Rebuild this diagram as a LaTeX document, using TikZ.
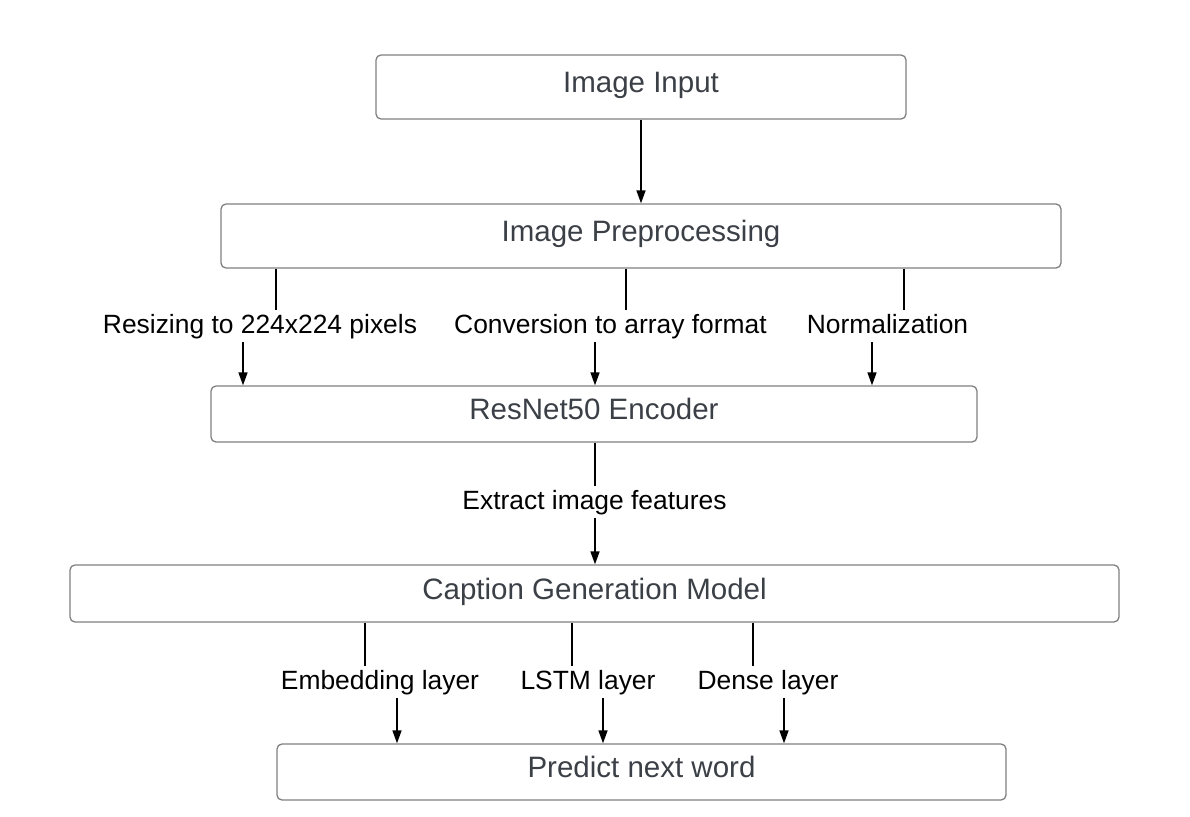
\documentclass[tikz,border=0pt]{standalone}
\usepackage{fontspec}
\setmainfont{Liberation Sans}
\usetikzlibrary{arrows.meta}
\definecolor{boxtext}{HTML}{3B3F46}
\definecolor{boxline}{HTML}{808080}

\begin{document}
\begin{tikzpicture}[x=1pt, y=-1pt,
  box/.style={draw=boxline, line width=1.3pt, rounded corners=5pt, text=boxtext, font=\fontsize{29.5}{34}\selectfont, text height=22pt, text depth=11pt, inner sep=0pt},
  lbl/.style={anchor=base, font=\fontsize{26.4}{31}\selectfont, text height=20pt, text depth=6pt, inner xsep=0pt, inner ysep=3pt},
  link/.style={line width=1.6pt},
  arr/.style={line width=1.6pt, -{Triangle[length=13pt, width=9pt]}}]
\useasboundingbox (0, 0) rectangle (1190, 816);
\node[box, minimum width=530, minimum height=64] (input) at (641, 87) {Image Input};
\node[box, minimum width=840, minimum height=64] (prep) at (641, 236) {Image Preprocessing};
\node[box, minimum width=766, minimum height=56] (enc) at (594, 414) {ResNet50 Encoder};
\node[box, minimum width=1049, minimum height=57] (cap) at (594.5, 593.5) {Caption Generation Model};
\node[box, minimum width=729, minimum height=56] (pred) at (641.5, 772) {Predict next word};
\node[lbl] (resize) at (260, 333) {Resizing to 224x224 pixels};
\node[lbl] (conv) at (610.5, 333) {Conversion to array format};
\node[lbl] (norm) at (887.5, 333) {Normalization};
\node[lbl] (feat) at (594.5, 509) {Extract image features};
\node[lbl] (embed) at (380, 689) {Embedding layer};
\node[lbl] (lstm) at (588, 689) {LSTM layer};
\node[lbl] (dense) at (768, 689) {Dense layer};
\draw[arr] (input) -- (prep);
\coordinate (resizeup) at ([xshift=16]resize.north);
\coordinate (resizedn) at ([xshift=-17]resize.south);
\coordinate (convup) at ([xshift=15.5]conv.north);
\coordinate (convdn) at ([xshift=-15.5]conv.south);
\coordinate (normup) at ([xshift=16.5]norm.north);
\coordinate (normdn) at ([xshift=-15.5]norm.south);
\draw[link] (resizeup |- prep.south) -- (resizeup);
\draw[link] (convup |- prep.south) -- (convup);
\draw[link] (normup |- prep.south) -- (normup);
\draw[arr] (resizedn) -- (resizedn |- enc.north);
\draw[arr] (convdn) -- (convdn |- enc.north);
\draw[arr] (normdn) -- (normdn |- enc.north);
\coordinate (featup) at ([xshift=0.5]feat.north);
\coordinate (featdn) at ([xshift=0.5]feat.south);
\draw[link] (featup |- enc.south) -- (featup);
\draw[arr] (featdn) -- (featdn |- cap.north);
\coordinate (embedup) at ([xshift=-15]embed.north);
\coordinate (embeddn) at ([xshift=17]embed.south);
\coordinate (lstmup) at ([xshift=-16]lstm.north);
\coordinate (lstmdn) at ([xshift=15]lstm.south);
\coordinate (denseup) at ([xshift=-15]dense.north);
\coordinate (densedn) at ([xshift=16]dense.south);
\draw[link] (embedup |- cap.south) -- (embedup);
\draw[link] (lstmup |- cap.south) -- (lstmup);
\draw[link] (denseup |- cap.south) -- (denseup);
\draw[arr] (embeddn) -- (embeddn |- pred.north);
\draw[arr] (lstmdn) -- (lstmdn |- pred.north);
\draw[arr] (densedn) -- (densedn |- pred.north);
\end{tikzpicture}
\end{document}
